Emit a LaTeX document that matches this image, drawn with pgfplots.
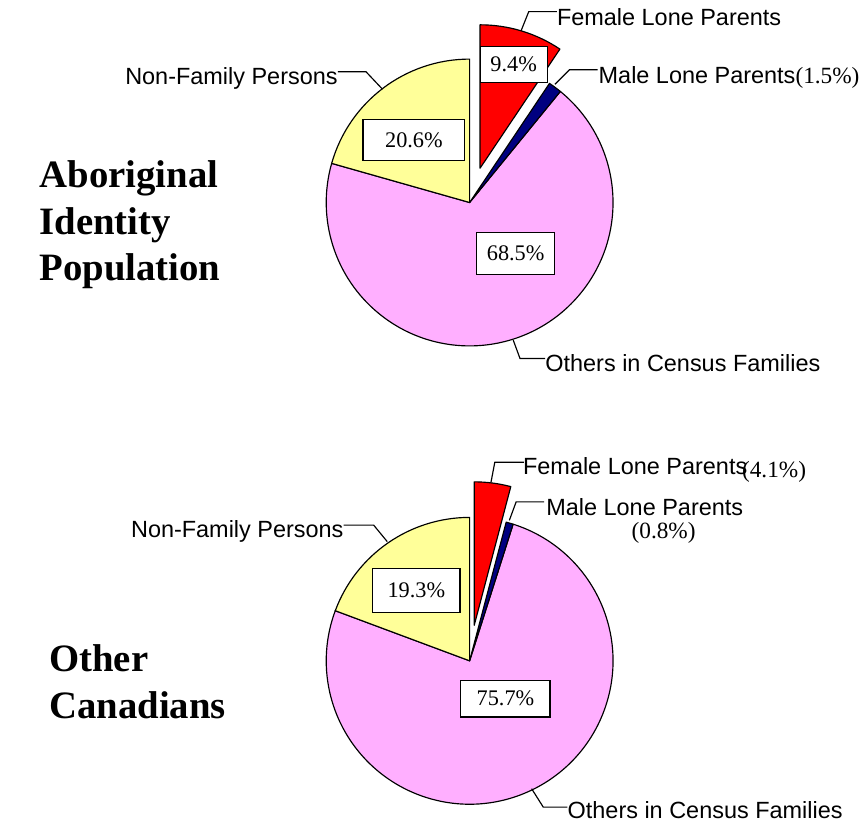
\documentclass[border=0pt]{standalone}
\usepackage{fontspec}
\setmainfont{Liberation Sans}
\newfontfamily\tms{Liberation Serif}
\usepackage{pgfplots}
\usepackage{pgfplotstable}
\pgfplotsset{compat=1.18}

\definecolor{femred}{RGB}{255,0,0}
\definecolor{malenavy}{RGB}{0,0,128}
\definecolor{othpink}{RGB}{255,175,255}
\definecolor{nfyellow}{RGB}{255,255,153}

% Aboriginal Identity Population
\pgfplotstableread{
cat value
Female 9.4
Male 1.5
Others 68.5
NonFamily 20.6
}\pieA
% Other Canadians
\pgfplotstableread{
cat value
Female 4.1
Male 0.8
Others 75.7
NonFamily 19.3
}\pieB

\newcommand\getv[3]{\pgfplotstablegetelem{#2}{value}\of#1\let#3\pgfplotsretval}

% #1 cx, #2 cy, #3 start angle, #4 end angle, #5 colour, #6 explode distance
\newcommand\pieslice[6]{%
  \filldraw[fill=#5, draw=black, line width=1.2bp, line join=round]
    ([shift={({(#3+#4)/2}:#6)}]axis cs:#1,#2) -- ++(#3:148bp)
    arc[start angle=#3, end angle=#4, radius=148bp] -- cycle;}

\newcommand\lab{\fontsize{24.2bp}{29bp}\selectfont}
\newcommand\pct{\tms\fontsize{23bp}{26bp}\selectfont}
\newcommand\pctb{\tms\fontsize{24bp}{28bp}\selectfont}
\newcommand\ttl{\tms\bfseries\fontsize{40bp}{48bp}\selectfont}

\begin{document}
% angles for pie A
\getv\pieA{0}\aF \getv\pieA{1}\aM \getv\pieA{2}\aO \getv\pieA{3}\aN
\pgfmathsetmacro\aT{\aF+\aM+\aO+\aN}
\pgfmathsetmacro\aK{360/\aT}
\pgfmathsetmacro\aA{90-\aK*\aF}
\pgfmathsetmacro\aB{\aA-\aK*\aM}
\pgfmathsetmacro\aC{\aB-\aK*\aO}
% angles for pie B
\getv\pieB{0}\bF \getv\pieB{1}\bM \getv\pieB{2}\bO \getv\pieB{3}\bN
\pgfmathsetmacro\bT{\bF+\bM+\bO+\bN}
\pgfmathsetmacro\bK{360/\bT}
\pgfmathsetmacro\bA{90-\bK*\bF}
\pgfmathsetmacro\bB{\bA-\bK*\bM}
\pgfmathsetmacro\bC{\bB-\bK*\bO}
\begin{tikzpicture}
\begin{axis}[hide axis, scale only axis, width=863bp, height=852bp,
  xmin=0, xmax=863, ymin=0, ymax=852, y dir=reverse, clip=false,
  at={(0,0)}, anchor=south west]
\addplot[draw=none] coordinates {(0,0) (863,852)};
\coordinate (BL) at (axis cs:0,852);
\coordinate (TR) at (axis cs:863,0);

% ---------- Pie A ----------
\pieslice{457}{209}{\aB}{\aC}{othpink}{0bp}
\pieslice{457}{209}{\aC}{-270}{nfyellow}{0bp}
\pieslice{457}{209}{\aA}{\aB}{malenavy}{0bp}
\pieslice{457}{209}{90}{\aA}{femred}{37bp}

\node[draw, fill=white, line width=1.2bp, minimum width=69bp, minimum height=37bp, inner sep=0, font=\pct] at (axis cs:502.5,66.5) {9.4\%};
\node[draw, fill=white, line width=1.2bp, minimum width=105bp, minimum height=43bp, inner sep=0, font=\pct] at (axis cs:399.5,144.5) {20.6\%};
\node[draw, fill=white, line width=1.2bp, minimum width=80bp, minimum height=43bp, inner sep=0, font=\pct] at (axis cs:504.5,261.5) {68.5\%};

\draw[line width=1.2bp] (axis cs:510,32) -- (axis cs:518,12) -- (axis cs:547,12);
\node[anchor=base west, inner sep=0, font=\lab] at (axis cs:547,26) {Female Lone Parents};
\draw[line width=1.2bp] (axis cs:545,87) -- (axis cs:560,72) -- (axis cs:589,72);
\node[anchor=base west, inner sep=0, font=\lab] at (axis cs:590,86) {Male Lone Parents{\pctb(1.5\%)}};
\draw[line width=1.2bp] (axis cs:321,74) -- (axis cs:350,74) -- (axis cs:367,92);
\node[anchor=base east, inner sep=0, font=\lab] at (axis cs:321,87) {Non-Family Persons};
\draw[line width=1.2bp] (axis cs:502,351) -- (axis cs:509,370) -- (axis cs:535,370);
\node[anchor=base west, inner sep=0, font=\lab] at (axis cs:535,383) {Others in Census Families};

\node[anchor=base west, inner sep=0, font=\ttl] at (axis cs:13,193) {Aboriginal};
\node[anchor=base west, inner sep=0, font=\ttl] at (axis cs:13,242) {Identity};
\node[anchor=base west, inner sep=0, font=\ttl] at (axis cs:13,290) {Population};

% ---------- Pie B ----------
\pieslice{457}{682}{\bB}{\bC}{othpink}{0bp}
\pieslice{457}{682}{\bC}{-270}{nfyellow}{0bp}
\pieslice{457}{682}{\bA}{\bB}{malenavy}{0bp}
\pieslice{457}{682}{90}{\bA}{femred}{37bp}

\node[draw, fill=white, line width=1.2bp, minimum width=90bp, minimum height=45bp, inner sep=0, font=\pct] at (axis cs:402,609.5) {19.3\%};
\node[draw, fill=white, line width=1.2bp, minimum width=92bp, minimum height=38bp, inner sep=0, font=\pct] at (axis cs:494,721) {75.7\%};

\draw[line width=1.2bp] (axis cs:479,498) -- (axis cs:483,477) -- (axis cs:513,477);
\node[anchor=base west, inner sep=0, font=\lab] at (axis cs:512,490) {Female Lone Parents};
\node[anchor=base west, inner sep=0, font=\pctb] at (axis cs:738,493) {(4.1\%)};
\draw[line width=1.2bp] (axis cs:498,537) -- (axis cs:505,518) -- (axis cs:534,518);
\node[anchor=base west, inner sep=0, font=\lab] at (axis cs:536,532) {Male Lone Parents};
\node[anchor=base west, inner sep=0, font=\pctb] at (axis cs:624,556) {(0.8\%)};
\draw[line width=1.2bp] (axis cs:327,542) -- (axis cs:358,542) -- (axis cs:372,559);
\node[anchor=base east, inner sep=0, font=\lab] at (axis cs:327,555) {Non-Family Persons};
\draw[line width=1.2bp] (axis cs:521,814) -- (axis cs:533,833) -- (axis cs:558,833);
\node[anchor=base west, inner sep=0, font=\lab] at (axis cs:558,845) {Others in Census Families};

\node[anchor=base west, inner sep=0, font=\ttl] at (axis cs:23,693) {Other};
\node[anchor=base west, inner sep=0, font=\ttl] at (axis cs:23,742) {Canadians};
\end{axis}
\pgfresetboundingbox
\path (BL) rectangle (TR);
\end{tikzpicture}
\end{document}
